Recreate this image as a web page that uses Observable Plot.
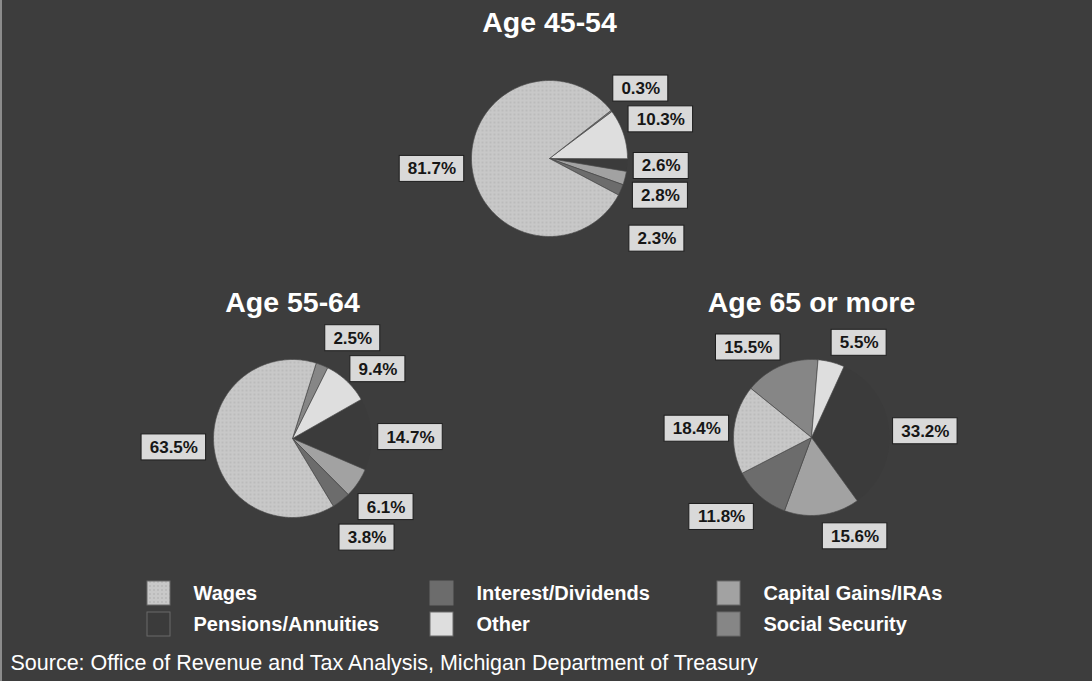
<!DOCTYPE html>
<html>
<head>
<meta charset="utf-8">
<script src="https://cdn.jsdelivr.net/npm/d3@7"></script>
<script src="https://cdn.jsdelivr.net/npm/@observablehq/plot@0.6"></script>
<style>
  html, body { margin: 0; padding: 0; background: #3d3d3d; }
  #chart { position: relative; width: 1092px; height: 681px; overflow: hidden; }
  #chart::after { content: ""; position: absolute; left: 0; top: 0; bottom: 0; width: 2px; background: #8c8c8c; }
</style>
</head>
<body>
<svg width="0" height="0" style="position:absolute">
  <defs>
    <pattern id="wagesDots" width="4" height="4" patternUnits="userSpaceOnUse">
      <rect width="4" height="4" fill="#c8c8c8"></rect>
      <circle cx="2" cy="2" r="0.8" fill="#acacac"></circle>
    </pattern>
  </defs>
</svg>
<div id="chart"></div>
<script>
// Income sources by age group (percent of total income)
const categories = ["Wages", "Interest/Dividends", "Capital Gains/IRAs", "Pensions/Annuities", "Other", "Social Security"];
const ageGroups = ["Age 45-54", "Age 55-64", "Age 65 or more"];
const wages          = [81.7, 63.5, 18.4];
const interest       = [2.3, 3.8, 11.8];
const capitalGains   = [2.8, 6.1, 15.6];
const pensions       = [2.6, 14.7, 33.2];
const other          = [10.3, 9.4, 5.5];
const socialSecurity = [0.3, 2.5, 15.5];
const sourceNote = "Source: Office of Revenue and Tax Analysis, Michigan Department of Treasury";

const shares = {
  "Wages": wages,
  "Interest/Dividends": interest,
  "Capital Gains/IRAs": capitalGains,
  "Pensions/Annuities": pensions,
  "Other": other,
  "Social Security": socialSecurity
};

// ---- layout ----
const W = 1092, H = 681;
const BG = "#3d3d3d";
const colors = ["url(#wagesDots)", "#6c6c6c", "#a2a2a2", "#3b3b3b", "#dedede", "#868686"];
// slices run clockwise in this order, starting at `start` degrees from 12 o'clock
const sliceOrder = ["Social Security", "Other", "Pensions/Annuities", "Capital Gains/IRAs", "Interest/Dividends", "Wages"];
const pies = [
  {cx: 549, cy: 158, r: 78, start: 52, titleY: 22},
  {cx: 292, cy: 438, r: 79, start: 17.5, titleY: 302},
  {cx: 811, cy: 437, r: 78, start: -51, titleY: 302}
];
// label placement: [angle shift in degrees, distance from centre]
const labelPlacement = [
  {"Social Security": [0, 115], "Other": [-1, 118], "Pensions/Annuities": [-1, 112],
   "Capital Gains/IRAs": [4, 117], "Interest/Dividends": [13, 134], "Wages": [0, 118]},
  {"Social Security": [9, 117], "Other": [7.5, 110], "Pensions/Annuities": [2.5, 118],
   "Capital Gains/IRAs": [2, 116], "Interest/Dividends": [1, 124], "Wages": [2.5, 119]},
  {"Social Security": [-12, 110], "Other": [12, 106], "Pensions/Annuities": [2.5, 114],
   "Capital Gains/IRAs": [-16, 108], "Interest/Dividends": [7, 120], "Wages": [-1.5, 115]}
];

// ---- wedge outlines and value labels built from the shares ----
const wedgePts = [];
const labels = [];
pies.forEach((p, g) => {
  const pt = (deg, r) => [p.cx + r * Math.sin(deg * Math.PI / 180), p.cy - r * Math.cos(deg * Math.PI / 180)];
  let a = p.start;
  sliceOrder.forEach(cat => {
    const v = shares[cat][g];
    const a0 = a, a1 = a + v * 3.6;
    a = a1;
    const id = g + "|" + cat;
    wedgePts.push({id, cat, x: p.cx, y: p.cy});
    const n = Math.max(2, Math.ceil(a1 - a0));
    for (let i = 0; i <= n; i++) {
      const [x, y] = pt(a0 + (a1 - a0) * i / n, p.r);
      wedgePts.push({id, cat, x, y});
    }
    wedgePts.push({id, cat, x: p.cx, y: p.cy});
    const [dA, R] = labelPlacement[g][cat];
    const [lx, ly] = pt((a0 + a1) / 2 + dA, R);
    const text = v.toFixed(1) + "%";
    const w = 9.5 * text.length + 17;
    labels.push({text, x: lx, y: ly, x1: lx - w / 2, x2: lx + w / 2, y1: ly - 13, y2: ly + 13});
  });
});

const titles = ageGroups.map((t, g) => ({text: t, x: pies[g].cx, y: pies[g].titleY}));

// legend: three columns, two rows
const legendCols = [147, 430, 717];
const legendRows = [593, 624];
const legend = categories.map((cat, i) => {
  const x = legendCols[i % 3], y = legendRows[Math.floor(i / 3)];
  return {cat, x1: x, x2: x + 23, y1: y - 12, y2: y + 12, tx: x + 46, y};
});

const isDarkSlice = d => d.cat === "Pensions/Annuities";

const chart = Plot.plot({
  width: W,
  height: H,
  margin: 0,
  x: {domain: [0, W], range: [0, W], axis: null},
  y: {domain: [0, H], range: [0, H], axis: null},
  color: {domain: categories, range: colors},
  style: {background: BG, fontFamily: "'Liberation Sans', Arial, sans-serif", overflow: "visible"},
  marks: [
    // the pensions slice blends into the background, so it is drawn without an outline
    Plot.line(wedgePts, {filter: isDarkSlice, x: "x", y: "y", z: "id", fill: "cat", stroke: "none", curve: "linear"}),
    Plot.line(wedgePts, {filter: d => !isDarkSlice(d), x: "x", y: "y", z: "id", fill: "cat", stroke: "#4a4a4a", strokeWidth: 0.7, curve: "linear"}),
    Plot.rect(labels, {x1: "x1", x2: "x2", y1: "y1", y2: "y2", fill: "#d9d9d9", stroke: "#1e1e1e", strokeWidth: 1}),
    Plot.text(labels, {x: "x", y: "y", text: "text", fontSize: 17, fontWeight: "bold", fill: "#161616"}),
    Plot.text(titles, {x: "x", y: "y", text: "text", fontSize: 28.5, fontWeight: "bold", fill: "#ffffff"}),
    Plot.rect(legend, {x1: "x1", x2: "x2", y1: "y1", y2: "y2", fill: "cat", stroke: "#6a6a6a", strokeWidth: 1}),
    Plot.text(legend, {x: "tx", y: "y", text: "cat", textAnchor: "start", fontSize: 20, fontWeight: "bold", fill: "#ffffff"}),
    Plot.text([sourceNote], {x: 10, y: 663, text: d => d, textAnchor: "start", fontSize: 21.5, fill: "#ffffff"})
  ]
});
document.getElementById("chart").appendChild(chart);
</script>
</body>
</html>
